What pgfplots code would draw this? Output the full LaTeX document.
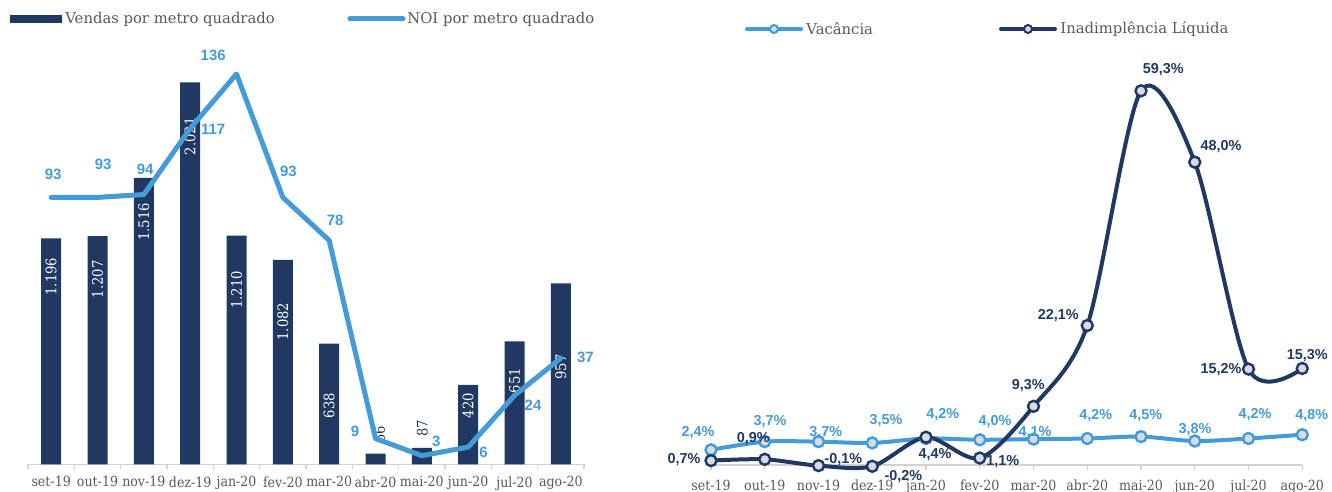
\documentclass[border=0pt]{standalone}
\usepackage{fontspec}
\setmainfont{DejaVu Serif}
\newfontfamily\labfont{Liberation Sans}
\newfontfamily\condfont{DejaVu Serif Condensed}
\usepackage{pgfplots}
\pgfplotsset{compat=1.18}
\definecolor{navy}{RGB}{33,56,99}
\definecolor{lblue}{RGB}{68,155,216}
\definecolor{mfill}{RGB}{214,220,229}
\definecolor{tgray}{RGB}{89,89,89}
\definecolor{agray}{RGB}{210,210,210}
\begin{document}
\begin{tikzpicture}
\useasboundingbox (0,0) rectangle (666pt,-246pt);
% ---------------- left panel: bars ----------------
\begin{axis}[at={(14pt,-232.15pt)}, anchor=south west, scale only axis,
  width=278pt, height=207.9pt,
  xmin=-0.5, xmax=11.5, ymin=0, ymax=2200,
  axis x line=bottom, axis y line=none,
  axis line style={-, draw=agray, line width=0.8pt},
  xtick={0,...,11},
  xticklabels={set-19,out-19,nov-19,dez-19,jan-20,fev-20,mar-20,abr-20,mai-20,jun-20,jul-20,ago-20},
  major tick length=0pt, minor xtick={-0.5,0.5,...,11.5}, minor tick length=2.5pt,
  tick align=outside, minor tick style={draw=agray, line width=0.6pt},
  xticklabel style={font=\condfont\fontsize{7}{8}\selectfont, text=tgray, yshift=-2.5pt},
  clip=false]
\addplot[ybar, bar width=10pt, fill=navy, draw=none] coordinates {
 (0,1196) (1,1207) (2,1516) (3,2021) (4,1210) (5,1082) (6,638) (7,56) (8,87) (9,420) (10,651) (11,957)};
\addplot[only marks, mark=none, nodes near coords, point meta=explicit symbolic,
  nodes near coords style={rotate=90, anchor=center, inner sep=0pt, font=\condfont\fontsize{7.3}{8}\selectfont, text=white}]
  table[meta=lab] {
x y lab
0 992.6 1.196
1 978.8 1.207
2 1282 1.516
3 1735 2.021
4 922 1.210
5 754.5 1.082
6 310 638
9 310 420
10 442 651
11 515 957
};
\addplot[only marks, mark=none, nodes near coords, point meta=explicit symbolic,
  nodes near coords style={rotate=90, anchor=center, inner sep=0pt, font=\condfont\fontsize{7.3}{8}\selectfont, text=navy}]
  table[meta=lab] {
x y lab
7.09 160.3 56
8.01 190.5 87
};
\end{axis}
% ---------------- left panel: NOI line ----------------
\begin{axis}[at={(14pt,-232.15pt)}, anchor=south west, scale only axis,
  width=278pt, height=207.9pt,
  xmin=-0.5, xmax=11.5, ymin=0, ymax=144.88,
  axis lines=none, clip=false]
\addplot[lblue, line width=2.5pt, line join=round, line cap=round] coordinates {
 (0,93) (1,93) (2,94) (3,117) (4,136) (5,93) (6,78) (7,9) (8,3) (9,6) (10,24) (11,37)};
\addplot[only marks, mark=none, nodes near coords, point meta=explicit symbolic,
  nodes near coords style={anchor=center, inner sep=0pt, font=\labfont\bfseries\fontsize{7.5}{8}\selectfont, text=lblue}]
  table[meta=lab] {
x y lab
0.043 101.2 93
1.122 104.6 93
2.029 102.9 94
3.498 116.8 117
3.497 142.6 136
5.122 102.0 93
6.130 85.1 78
6.560 11.6 9
8.310 8.1 3
9.330 4.0 6
10.400 20.4 24
11.530 37.1 37
};
\end{axis}
% ---------------- right panel ----------------
\begin{axis}[at={(355.5pt,-238.81pt)}, anchor=south west, scale only axis,
  width=295.625pt, height=211.385pt,
  xmin=0, xmax=11, ymin=-2, ymax=65,
  axis x line=middle, axis y line=none,
  axis line style={-, draw=agray, line width=0.8pt},
  xtick={0,...,11},
  xticklabels={set-19,out-19,nov-19,dez-19,jan-20,fev-20,mar-20,abr-20,mai-20,jun-20,jul-20,ago-20},
  major tick length=2.5pt, tick align=outside, major tick style={draw=agray, line width=0.6pt},
  xticklabel style={font=\condfont\fontsize{7}{8}\selectfont, text=tgray, yshift=-1.5pt},
  clip=false]
\addplot[lblue, line width=2pt, smooth, mark=*, mark size=2.75pt,
  mark options={fill=mfill, draw=lblue, line width=1.2pt}] coordinates {
 (0,2.4) (1,3.7) (2,3.7) (3,3.5) (4,4.2) (5,4.0) (6,4.1) (7,4.2) (8,4.5) (9,3.8) (10,4.2) (11,4.8)};
\addplot[navy, line width=2pt, smooth, mark=*, mark size=2.75pt,
  mark options={fill=mfill, draw=navy, line width=1.2pt}] coordinates {
 (0,0.7) (1,0.9) (2,-0.1) (3,-0.2) (4,4.4) (5,1.1) (6,9.3) (7,22.1) (8,59.3) (9,48.0) (10,15.2) (11,15.3)};
\addplot[only marks, mark=none, nodes near coords={\pgfplotspointmeta\%}, point meta=explicit symbolic,
  nodes near coords style={anchor=center, inner sep=0pt, font=\labfont\bfseries\fontsize{7.2}{8}\selectfont, text=lblue}]
  table[meta=lab] {
x y lab
-0.242 5.07 2,4
1.098 6.86 3,7
2.134 5.12 3,7
3.256 6.97 3,5
4.311 8.03 4,2
5.284 6.86 4,0
6.028 5.12 4,1
7.157 7.77 4,2
8.087 7.77 4,5
9.005 5.55 3,8
10.121 8.03 4,2
11.176 7.77 4,8
};
\addplot[only marks, mark=none, nodes near coords={\pgfplotspointmeta\%}, point meta=explicit symbolic,
  nodes near coords style={anchor=center, inner sep=0pt, font=\labfont\bfseries\fontsize{7.2}{8}\selectfont, text=navy}]
  table[meta=lab] {
x y lab
-0.502 0.79 0,7
0.787 4.23 0,9
2.461 0.79 -0,1
3.578 -1.85 -0,2
4.167 1.58 4,4
5.430 0.52 1,1
5.903 12.52 9,3
6.461 23.61 22,1
8.415 62.6 59,3
9.488 50.44 48,0
9.488 15.06 15,2
11.094 17.27 15,3
};
\end{axis}
% ---------------- legends ----------------
\begin{scope}[x=0.5pt,y=-0.5pt]
\fill[navy] (10,15) rectangle (62,23);
\node[anchor=west, inner sep=0pt, font=\fontsize{7.4}{8}\selectfont, text=tgray] at (65,19) {Vendas por metro quadrado};
\draw[lblue, line width=2.5pt, line cap=round] (350,19) -- (403,19);
\node[anchor=west, inner sep=0pt, font=\fontsize{7.4}{8}\selectfont, text=tgray] at (407,19) {NOI por metro quadrado};
\draw[lblue, line width=2pt, line cap=round] (747,29) -- (801,29);
\draw[lblue, fill=mfill, line width=1pt] (774,29) circle (2pt);
\node[anchor=west, inner sep=0pt, font=\fontsize{7.4}{8}\selectfont, text=tgray] at (806,29) {Vacância};
\draw[navy, line width=2pt, line cap=round] (1001,29) -- (1055,29);
\draw[navy, fill=mfill, line width=1pt] (1028,29) circle (2pt);
\node[anchor=west, inner sep=0pt, font=\fontsize{7.4}{8}\selectfont, text=tgray] at (1060,29) {Inadimplência Líquida};
\end{scope}
\end{tikzpicture}
\end{document}
